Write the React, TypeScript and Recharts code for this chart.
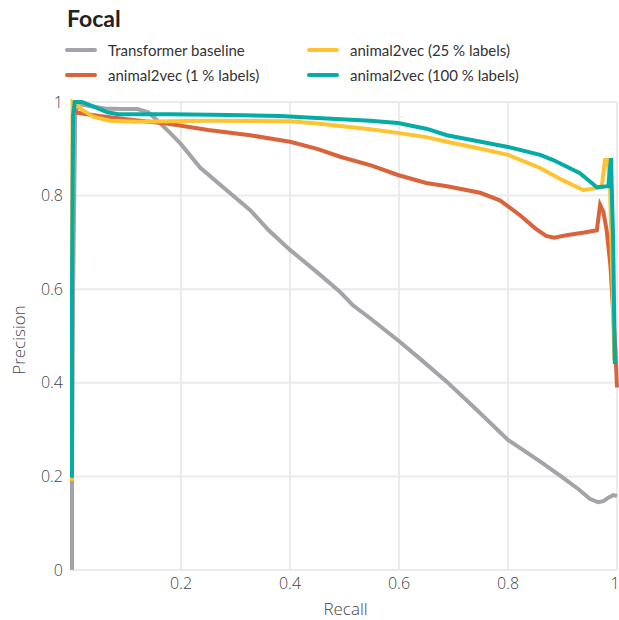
import { CartesianGrid, Line, LineChart, XAxis, YAxis } from "recharts";

type Pt = { r: number; p: number };
const pts = (rows: number[][]): Pt[] => rows.map(([r, p]) => ({ r, p }));

// precision-recall curves: [recall, precision]
const baseline = pts([
  [0, 0], [0, 0.19], [0.002, 0.6], [0.006, 0.98], [0.015, 0.995], [0.04, 0.99],
  [0.06, 0.986], [0.09, 0.985], [0.12, 0.985], [0.14, 0.978], [0.155, 0.962],
  [0.18, 0.934], [0.2, 0.91], [0.235, 0.86], [0.28, 0.815], [0.327, 0.769],
  [0.36, 0.727], [0.4, 0.684], [0.45, 0.636], [0.492, 0.594], [0.516, 0.565],
  [0.547, 0.538], [0.598, 0.491], [0.64, 0.45], [0.688, 0.402], [0.74, 0.345],
  [0.8, 0.278], [0.86, 0.231], [0.9, 0.198], [0.93, 0.172], [0.95, 0.152],
  [0.965, 0.145], [0.975, 0.147], [0.985, 0.155], [0.993, 0.16], [1, 0.158],
]);

const labels1 = pts([
  [0.002, 0.985], [0.01, 0.977], [0.05, 0.97], [0.1, 0.963], [0.18, 0.953],
  [0.25, 0.94], [0.327, 0.929], [0.4, 0.915], [0.45, 0.9], [0.492, 0.883],
  [0.55, 0.864], [0.598, 0.844], [0.65, 0.827], [0.688, 0.82], [0.749, 0.806],
  [0.785, 0.79], [0.822, 0.758], [0.85, 0.73], [0.87, 0.714], [0.885, 0.71],
  [0.91, 0.716], [0.94, 0.721], [0.963, 0.726], [0.969, 0.78], [0.975, 0.765],
  [0.981, 0.726], [0.988, 0.65], [0.993, 0.55], [0.997, 0.47], [1, 0.39],
]);

const labels25 = pts([
  [0, 0.19], [0, 0.6], [0.001, 1], [0.008, 0.995], [0.02, 0.982], [0.04, 0.968],
  [0.07, 0.96], [0.12, 0.958], [0.18, 0.959], [0.25, 0.96], [0.4, 0.959],
  [0.45, 0.954], [0.547, 0.942], [0.598, 0.934], [0.65, 0.925], [0.688, 0.915],
  [0.75, 0.9], [0.8, 0.887], [0.859, 0.859], [0.9, 0.833], [0.938, 0.812],
  [0.963, 0.816], [0.972, 0.818], [0.978, 0.876], [0.983, 0.876], [0.987, 0.83],
  [0.991, 0.65], [0.995, 0.45],
]);

const labels100 = pts([
  [0, 0.197], [0, 0.6], [0.002, 0.97], [0.005, 1], [0.018, 1], [0.04, 0.99],
  [0.065, 0.978], [0.085, 0.974], [0.18, 0.974], [0.289, 0.972], [0.382, 0.97],
  [0.45, 0.966], [0.547, 0.96], [0.598, 0.955], [0.65, 0.943], [0.688, 0.929],
  [0.75, 0.915], [0.8, 0.904], [0.859, 0.887], [0.883, 0.876], [0.932, 0.848],
  [0.963, 0.818], [0.984, 0.82], [0.989, 0.88], [0.993, 0.7], [0.996, 0.44],
]);

const xTicks = [0.2, 0.4, 0.6, 0.8, 1];
const yTicks = [0, 0.2, 0.4, 0.6, 0.8, 1];

const series = [
  { name: "Transformer baseline", data: baseline, color: "#a3a3a8" },
  { name: "animal2vec (1\u202f% labels)", data: labels1, color: "#d9643c" },
  { name: "animal2vec (25\u202f% labels)", data: labels25, color: "#fec331" },
  { name: "animal2vec (100\u202f% labels)", data: labels100, color: "#05aca5" },
];

const font = "'Open Sans', 'DejaVu Sans', sans-serif";
const legendFont = "Lato, 'Open Sans', sans-serif";
const tick = { fill: "#444", fontSize: 16, fontFamily: font, fontWeight: 300 };

function LegendItem({ name, color, x, y }: { name: string; color: string; x: number; y: number }) {
  return (
    <div style={{ position: "absolute", left: x, top: y, display: "flex", alignItems: "center", fontSize: 15, color: "#333", fontFamily: legendFont, whiteSpace: "nowrap" }}>
      <span style={{ display: "inline-block", width: 32, height: 4, borderRadius: 2, background: color, marginRight: 11 }} />
      {name}
    </div>
  );
}

export default function App() {
  return (
    <div style={{ position: "absolute", left: 0, top: 0, width: 619, height: 620, background: "#fff", fontFamily: font }}>
      <div style={{ position: "absolute", left: 67, top: 4, fontSize: 23, fontWeight: 700, color: "#222", fontFamily: legendFont }}>
        Focal
      </div>
      <LegendItem {...series[0]} x={65} y={41} />
      <LegendItem {...series[1]} x={65} y={66} />
      <LegendItem {...series[2]} x={307} y={41} />
      <LegendItem {...series[3]} x={307} y={66} />
      <LineChart width={619} height={620} margin={{ top: 102, right: 2, bottom: 0, left: 0 }}>
        <CartesianGrid stroke="#ebebeb" strokeWidth={2} />
        <XAxis
          type="number"
          dataKey="r"
          domain={[0, 1]}
          ticks={xTicks}
          tickFormatter={(v: number) => String(v)}
          axisLine={false}
          tickLine={false}
          tick={tick}
          height={50}
          tickMargin={2}
          allowDuplicatedCategory={false}
        />
        <YAxis
          type="number"
          dataKey="p"
          domain={[0, 1]}
          ticks={yTicks}
          tickFormatter={(v: number) => String(v)}
          axisLine={false}
          tickLine={false}
          tick={tick}
          width={72}
          tickMargin={3}
        />
        {series.map((s) => (
          <Line
            key={s.name}
            data={s.data}
            dataKey="p"
            type="linear"
            stroke={s.color}
            strokeWidth={4}
            dot={false}
            isAnimationActive={false}
          />
        ))}
      </LineChart>
      <div style={{ position: "absolute", left: 0, right: 0, top: 597, textAlign: "center", paddingLeft: 72, boxSizing: "border-box", fontSize: 17, color: "#444", fontWeight: 300 }}>
        Recall
      </div>
      <div style={{ position: "absolute", left: 18, top: 340, transform: "translate(-50%, -50%) rotate(-90deg)", fontSize: 17, color: "#444", fontWeight: 300 }}>
        Precision
      </div>
    </div>
  );
}
